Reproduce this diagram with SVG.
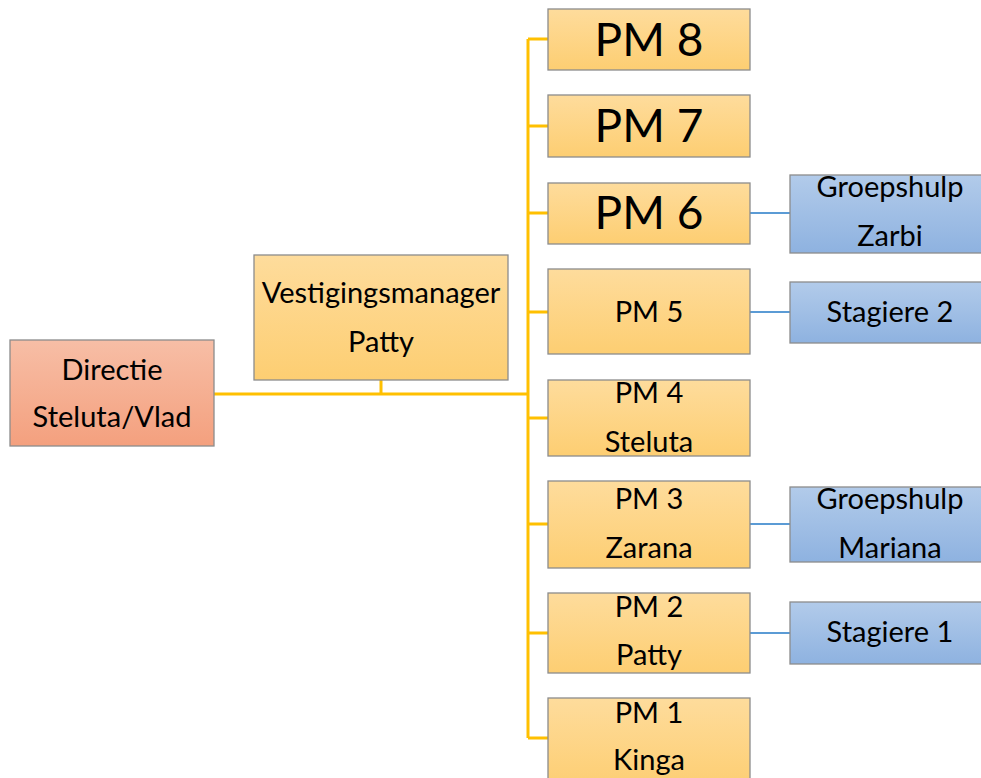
<svg xmlns="http://www.w3.org/2000/svg" width="981" height="778" viewBox="0 0 981 778">
<defs>
<linearGradient id="gOr" x1="0" y1="0" x2="0" y2="1"><stop offset="0" stop-color="#FEDC9C"/><stop offset="1" stop-color="#FDCE72"/></linearGradient>
<linearGradient id="gRed" x1="0" y1="0" x2="0" y2="1"><stop offset="0" stop-color="#F7BEA6"/><stop offset="1" stop-color="#F4A07E"/></linearGradient>
<linearGradient id="gBl" x1="0" y1="0" x2="0" y2="1"><stop offset="0" stop-color="#B2CBEA"/><stop offset="1" stop-color="#8EB2E0"/></linearGradient>
</defs>
<style>
text{font-family:"Lato","Noto Sans",sans-serif;font-size:29px;fill:#000;text-anchor:middle}
.big{font-size:46px}
.box{stroke:#8C8C8C;stroke-width:1.3}
.or{fill:url(#gOr)}
.red{fill:url(#gRed)}
.bl{fill:url(#gBl)}
.cy{stroke:#FFC000;stroke-width:3;fill:none}
.cb{stroke:#5B9BD5;stroke-width:2;fill:none}
</style>
<rect width="981" height="778" fill="#fff"/>
<g id="connectors">
<path class="cy" d="M214 394H528M381 380V394M528 39V738M528 39H548M528 126H548M528 213H548M528 312H548M528 418H548M528 524H548M528 633H548M528 738H548"/>
<path class="cb" d="M750 213H790M750 312H790M750 524H790M750 633H790"/>
</g>
<g id="directie"><rect class="box red" x="10" y="340" width="204" height="106"/><text x="112" y="380">Directie</text><text x="112" y="427">Steluta/Vlad</text></g>
<g id="vestigingsmanager"><rect class="box or" x="254" y="255" width="254" height="125"/><text x="381" y="303">Vestigingsmanager</text><text x="381" y="352">Patty</text></g>
<g id="pm8"><rect class="box or" x="548" y="9" width="202" height="61"/><text class="big" x="649" y="56">PM 8</text></g>
<g id="pm7"><rect class="box or" x="548" y="95" width="202" height="62"/><text class="big" x="649" y="142">PM 7</text></g>
<g id="pm6"><rect class="box or" x="548" y="183" width="202" height="61"/><text class="big" x="649" y="229">PM 6</text></g>
<g id="pm5"><rect class="box or" x="548" y="269" width="202" height="85"/><text x="649" y="322">PM 5</text></g>
<g id="pm4"><rect class="box or" x="548" y="380" width="202" height="76"/><text x="649" y="403">PM 4</text><text x="649" y="452">Steluta</text></g>
<g id="pm3"><rect class="box or" x="548" y="481" width="202" height="87"/><text x="649" y="509">PM 3</text><text x="649" y="558">Zarana</text></g>
<g id="pm2"><rect class="box or" x="548" y="593" width="202" height="80"/><text x="649" y="617">PM 2</text><text x="649" y="665">Patty</text></g>
<g id="pm1"><rect class="box or" x="548" y="698" width="202" height="90"/><text x="649" y="723">PM 1</text><text x="649" y="770">Kinga</text></g>
<g id="groepshulp-zarbi"><rect class="box bl" x="790" y="175" width="200" height="78"/><text x="890" y="197">Groepshulp</text><text x="890" y="246">Zarbi</text></g>
<g id="stagiere2"><rect class="box bl" x="790" y="282" width="200" height="61"/><text x="890" y="322">Stagiere 2</text></g>
<g id="groepshulp-mariana"><rect class="box bl" x="790" y="487" width="200" height="75"/><text x="890" y="509">Groepshulp</text><text x="890" y="558">Mariana</text></g>
<g id="stagiere1"><rect class="box bl" x="790" y="602" width="200" height="62"/><text x="890" y="642">Stagiere 1</text></g>
</svg>
